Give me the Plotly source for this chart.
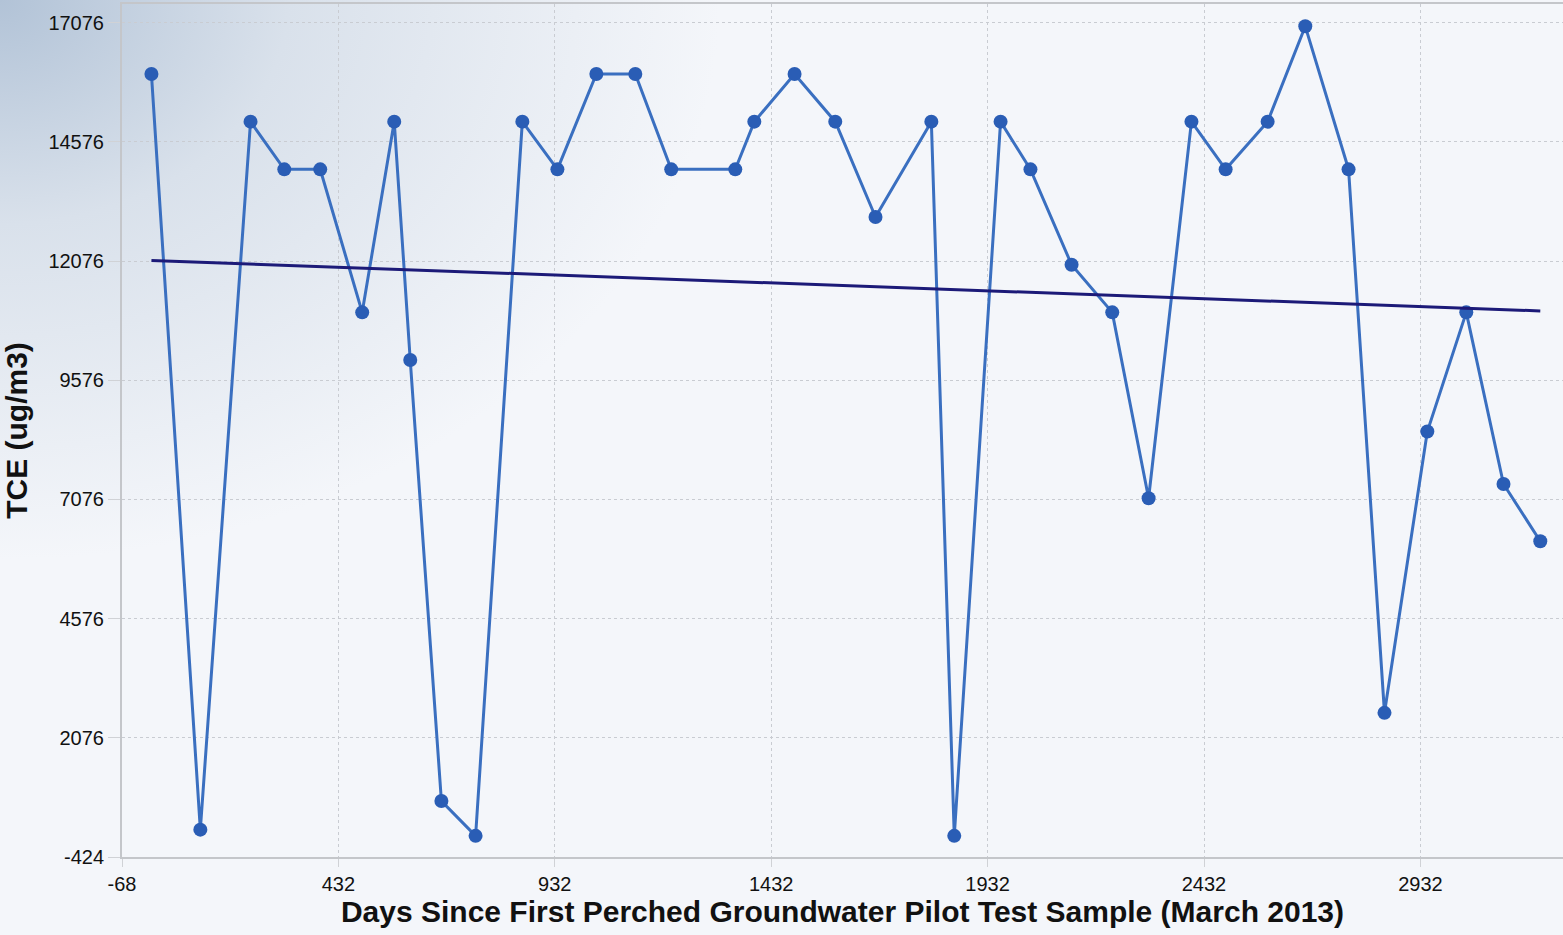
import base64
import plotly.graph_objects as go

# ---- data ----
days = [0, 113, 229, 307, 390, 487, 561, 598, 670, 749, 857, 938, 1028, 1118,
        1201, 1349, 1393, 1486, 1580, 1673, 1802, 1855, 1962, 2031, 2126, 2220,
        2304, 2403, 2482, 2579, 2666, 2766, 2849, 2948, 3038, 3124, 3209]
tce = [16000, 150, 15000, 14000, 14000, 11000, 15000, 10000, 750, 20, 15000,
       14000, 16000, 16000, 14000, 14000, 15000, 16000, 15000, 13000, 15000, 20,
       15000, 14000, 12000, 11000, 7100, 15000, 14000, 15000, 17000, 14000, 2600,
       8500, 11000, 7400, 6200]
trend_days = [0, 3209]
trend_tce = [12090, 11030]
tick_vals = [-68, 432, 932, 1432, 1932, 2432, 2932]
ytick_vals = [-424, 2076, 4576, 7076, 9576, 12076, 14576, 17076]

W, H = 1563, 935
L, R, T, B = 122, 0, 4, 78
pw, ph = W - L - R, H - T - B

svg = f'''<svg xmlns="http://www.w3.org/2000/svg" width="{W}" height="{H}" viewBox="0 0 {W} {H}">
<defs><radialGradient id="g" cx="0" cy="0" r="1" gradientUnits="userSpaceOnUse" gradientTransform="scale(720,560)">
<stop offset="0" stop-color="#b2c3d7"/><stop offset="0.4" stop-color="#d9e1eb"/><stop offset="1" stop-color="#f4f6fa"/>
</radialGradient></defs>
<rect width="{W}" height="{H}" fill="#f4f6fa"/><rect width="{W}" height="{H}" fill="url(#g)"/></svg>'''
src = "data:image/svg+xml;base64," + base64.b64encode(svg.encode()).decode()

fig = go.Figure()
fig.add_trace(go.Scatter(
    x=days, y=tce, mode="lines+markers",
    line=dict(color="#3a6fc0", width=3),
    marker=dict(color="#2a5db5", size=14, line=dict(width=0)),
    showlegend=False, hoverinfo="x+y"))
fig.add_trace(go.Scatter(
    x=trend_days, y=trend_tce, mode="lines",
    line=dict(color="#1c1a78", width=3),
    showlegend=False, hoverinfo="skip"))

tickfont = dict(family="Liberation Sans, Arial, sans-serif", size=20, color="#111111")
titlefont = dict(family="Liberation Sans, Arial, sans-serif", size=30, color="#111111")
fig.update_layout(
    width=W, height=H,
    margin=dict(l=L, r=R, t=T, b=B, pad=0),
    paper_bgcolor="#f4f6fa",
    plot_bgcolor="rgba(0,0,0,0)",
    images=[dict(source=src, xref="paper", yref="paper",
                 x=-L / pw, y=1 + T / ph, sizex=W / pw, sizey=H / ph,
                 xanchor="left", yanchor="top", sizing="stretch", layer="below")],
    xaxis=dict(
        range=[-68, -68 + pw / 0.4328], tickvals=tick_vals, ticktext=[str(v) for v in tick_vals],
        showgrid=True, gridcolor="#c9ccd2", griddash="dot", gridwidth=1,
        showline=True, linecolor="#c4c6ca", linewidth=2, mirror=True,
        ticks="outside", ticklen=8, tickcolor="#d0d2d6", tickfont=tickfont,
        zeroline=False,
        title=dict(text="<b>Days Since First Perched Groundwater Pilot Test Sample (March 2013)</b>",
                   font=titlefont, standoff=6)),
    yaxis=dict(
        range=[-424, 17468], tickvals=ytick_vals, ticktext=[str(v) for v in ytick_vals],
        showgrid=True, gridcolor="#c9ccd2", griddash="dot", gridwidth=1,
        showline=True, linecolor="#c4c6ca", linewidth=2,
        ticks="outside", ticklen=12, tickcolor="#d0d2d6", tickfont=tickfont,
        zeroline=False,
        title=dict(text="<b>TCE (ug/m3)</b>", font=titlefont, standoff=12)),
)
fig.write_html("out.html", config={"displayModeBar": False},
               post_script="document.body.style.margin='0';document.body.style.padding='0';")
